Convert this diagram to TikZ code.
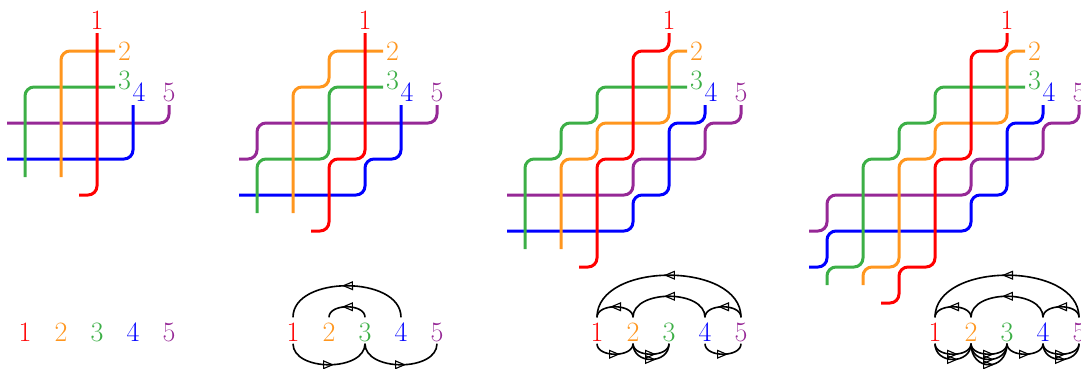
\documentclass[tikz,border=0pt]{standalone}
\usetikzlibrary{decorations.markings,arrows.meta}
\definecolor{cR}{RGB}{255,0,0}
\definecolor{cO}{RGB}{255,150,30}
\definecolor{cG}{RGB}{60,175,70}
\definecolor{cB}{RGB}{0,0,255}
\definecolor{cP}{RGB}{150,40,150}
\tikzset{
  strand/.style={line width=3pt, rounded corners=9pt},
  lab/.style={font=\fontsize{28}{34}\selectfont, inner sep=3pt},
  blab/.style={font=\fontsize{28}{34}\selectfont, inner xsep=2pt, inner ysep=2.5pt, text height=21pt, text depth=0pt, anchor=base},
  arc/.style={black, line width=1.6pt, decoration={markings, mark=at position 0.5 with {\arrow[xshift=5pt]{Triangle[open,length=11pt,width=9pt,line width=1.1pt]}}}, postaction={decorate}},
  up/.style={out=90,in=90,looseness=#1},
  up/.default=1,
  dn/.style={out=-90,in=-90,looseness=#1},
  dn/.default=1
}
\begin{document}
\begin{tikzpicture}[x=1pt,y=-1pt]
\useasboundingbox (0,0) rectangle (1081,368);
% ---------- panel A
\begin{scope}[shift={(25,51)},x=36pt,y=-36pt]
\draw[strand,cP] (4,1.5)--(4,2)--(-0.5,2);
\draw[strand,cB] (3,1.5)--(3,3)--(-0.5,3);
\draw[strand,cG] (2.5,1)--(0,1)--(0,3.5);
\draw[strand,cO] (2.5,0)--(1,0)--(1,3.5);
\draw[strand,cR] (2,-0.5)--(2,4)--(1.5,4);
\node[lab,cR,anchor=south] (At1) at (2,-0.5) {1};
\node[lab,cO,anchor=west] (At2) at (2.5,0) {2};
\node[lab,cG,anchor=west,yshift=7pt] (At3) at (2.5,1) {3};
\node[lab,cB,anchor=south,xshift=6pt] (At4) at (3,1.5) {4};
\node[lab,cP,anchor=south] (At5) at (4,1.5) {5};
\end{scope}
\node[blab,cR] (A1) at (25,341) {1};
\node[blab,cO] (A2) at (61,341) {2};
\node[blab,cG] (A3) at (97,341) {3};
\node[blab,cB] (A4) at (133,341) {4};
\node[blab,cP] (A5) at (169,341) {5};
% ---------- panel B
\begin{scope}[shift={(257,51)},x=36pt,y=-36pt]
\draw[strand,cP] (5,1.5)--(5,2)--(0,2)--(0,3)--(-0.5,3);
\draw[strand,cB] (4,1.5)--(4,3)--(3,3)--(3,4)--(-0.5,4);
\draw[strand,cG] (3.5,1)--(2,1)--(2,3)--(0,3)--(0,4.5);
\draw[strand,cO] (3.5,0)--(2,0)--(2,1)--(1,1)--(1,4.5);
\draw[strand,cR] (3,-0.5)--(3,3)--(2,3)--(2,5)--(1.5,5);
\node[lab,cR,anchor=south] (Bt1) at (3,-0.5) {1};
\node[lab,cO,anchor=west] (Bt2) at (3.5,0) {2};
\node[lab,cG,anchor=west,yshift=7pt] (Bt3) at (3.5,1) {3};
\node[lab,cB,anchor=south,xshift=6pt] (Bt4) at (4,1.5) {4};
\node[lab,cP,anchor=south] (Bt5) at (5,1.5) {5};
\end{scope}
\node[blab,cR] (B1) at (293,341) {1};
\node[blab,cO] (B2) at (329,341) {2};
\node[blab,cG] (B3) at (365,341) {3};
\node[blab,cB] (B4) at (401,341) {4};
\node[blab,cP] (B5) at (437,341) {5};
\draw[arc] (B4.north) to[up] (B1.north);
\draw[arc] (B3.north) to[up] (B2.north);
\draw[arc] (B1.south) to[dn] (B3.south);
\draw[arc] (B3.south) to[dn] (B5.south);
% ---------- panel C
\begin{scope}[shift={(525,51)},x=36pt,y=-36pt]
\draw[strand,cP] (6,1.5)--(6,2)--(5,2)--(5,3)--(3,3)--(3,4)--(-0.5,4);
\draw[strand,cB] (5,1.5)--(5,2)--(4,2)--(4,4)--(3,4)--(3,5)--(-0.5,5);
\draw[strand,cG] (4.5,1)--(2,1)--(2,2)--(1,2)--(1,3)--(0,3)--(0,5.5);
\draw[strand,cO] (4.5,0)--(4,0)--(4,2)--(2,2)--(2,3)--(1,3)--(1,5.5);
\draw[strand,cR] (4,-0.5)--(4,0)--(3,0)--(3,3)--(2,3)--(2,6)--(1.5,6);
\node[lab,cR,anchor=south] (Ct1) at (4,-0.5) {1};
\node[lab,cO,anchor=west] (Ct2) at (4.5,0) {2};
\node[lab,cG,anchor=west,yshift=7pt] (Ct3) at (4.5,1) {3};
\node[lab,cB,anchor=south,xshift=6pt] (Ct4) at (5,1.5) {4};
\node[lab,cP,anchor=south] (Ct5) at (6,1.5) {5};
\end{scope}
\node[blab,cR] (C1) at (597,341) {1};
\node[blab,cO] (C2) at (633,341) {2};
\node[blab,cG] (C3) at (669,341) {3};
\node[blab,cB] (C4) at (705,341) {4};
\node[blab,cP] (C5) at (741,341) {5};
\draw[arc] (C5.north) to[up] (C1.north);
\draw[arc] (C4.north) to[up] (C2.north);
\draw[arc] (C2.north) to[up] (C1.north);
\draw[arc] (C5.north) to[up] (C4.north);
\draw[arc] (C1.south) to[dn] (C2.south);
\draw[arc] (C2.south) to[dn] (C3.south);
\draw[arc] (C2.south) to[dn=1.5] (C3.south);
\draw[arc] (C4.south) to[dn] (C5.south);
% ---------- panel D
\begin{scope}[shift={(827,51)},x=36pt,y=-36pt]
\draw[strand,cP] (7,1.5)--(7,2)--(6,2)--(6,3)--(4,3)--(4,4)--(0,4)--(0,5)--(-0.5,5);
\draw[strand,cB] (6,1.5)--(6,2)--(5,2)--(5,4)--(4,4)--(4,5)--(0,5)--(0,6)--(-0.5,6);
\draw[strand,cG] (5.5,1)--(3,1)--(3,2)--(2,2)--(2,3)--(1,3)--(1,6)--(0,6)--(0,6.5);
\draw[strand,cO] (5.5,0)--(5,0)--(5,2)--(3,2)--(3,3)--(2,3)--(2,6)--(1,6)--(1,6.5);
\draw[strand,cR] (5,-0.5)--(5,0)--(4,0)--(4,3)--(3,3)--(3,6)--(2,6)--(2,7)--(1.5,7);
\node[lab,cR,anchor=south] (Dt1) at (5,-0.5) {1};
\node[lab,cO,anchor=west] (Dt2) at (5.5,0) {2};
\node[lab,cG,anchor=west,yshift=7pt] (Dt3) at (5.5,1) {3};
\node[lab,cB,anchor=south,xshift=6pt] (Dt4) at (6,1.5) {4};
\node[lab,cP,anchor=south] (Dt5) at (7,1.5) {5};
\end{scope}
\node[blab,cR] (D1) at (935,341) {1};
\node[blab,cO] (D2) at (971,341) {2};
\node[blab,cG] (D3) at (1007,341) {3};
\node[blab,cB] (D4) at (1043,341) {4};
\node[blab,cP] (D5) at (1079,341) {5};
\draw[arc] (D5.north) to[up] (D1.north);
\draw[arc] (D4.north) to[up] (D2.north);
\draw[arc] (D2.north) to[up] (D1.north);
\draw[arc] (D5.north) to[up] (D4.north);
\draw[arc] (D1.south) to[dn] (D2.south);
\draw[arc] (D1.south) to[dn=1.5] (D2.south);
\draw[arc] (D2.south) to[dn] (D3.south);
\draw[arc] (D2.south) to[dn=1.5] (D3.south);
\draw[arc] (D2.south) to[dn=2] (D3.south);
\draw[arc] (D3.south) to[dn] (D4.south);
\draw[arc] (D4.south) to[dn] (D5.south);
\draw[arc] (D4.south) to[dn=1.5] (D5.south);
\end{tikzpicture}
\end{document}
